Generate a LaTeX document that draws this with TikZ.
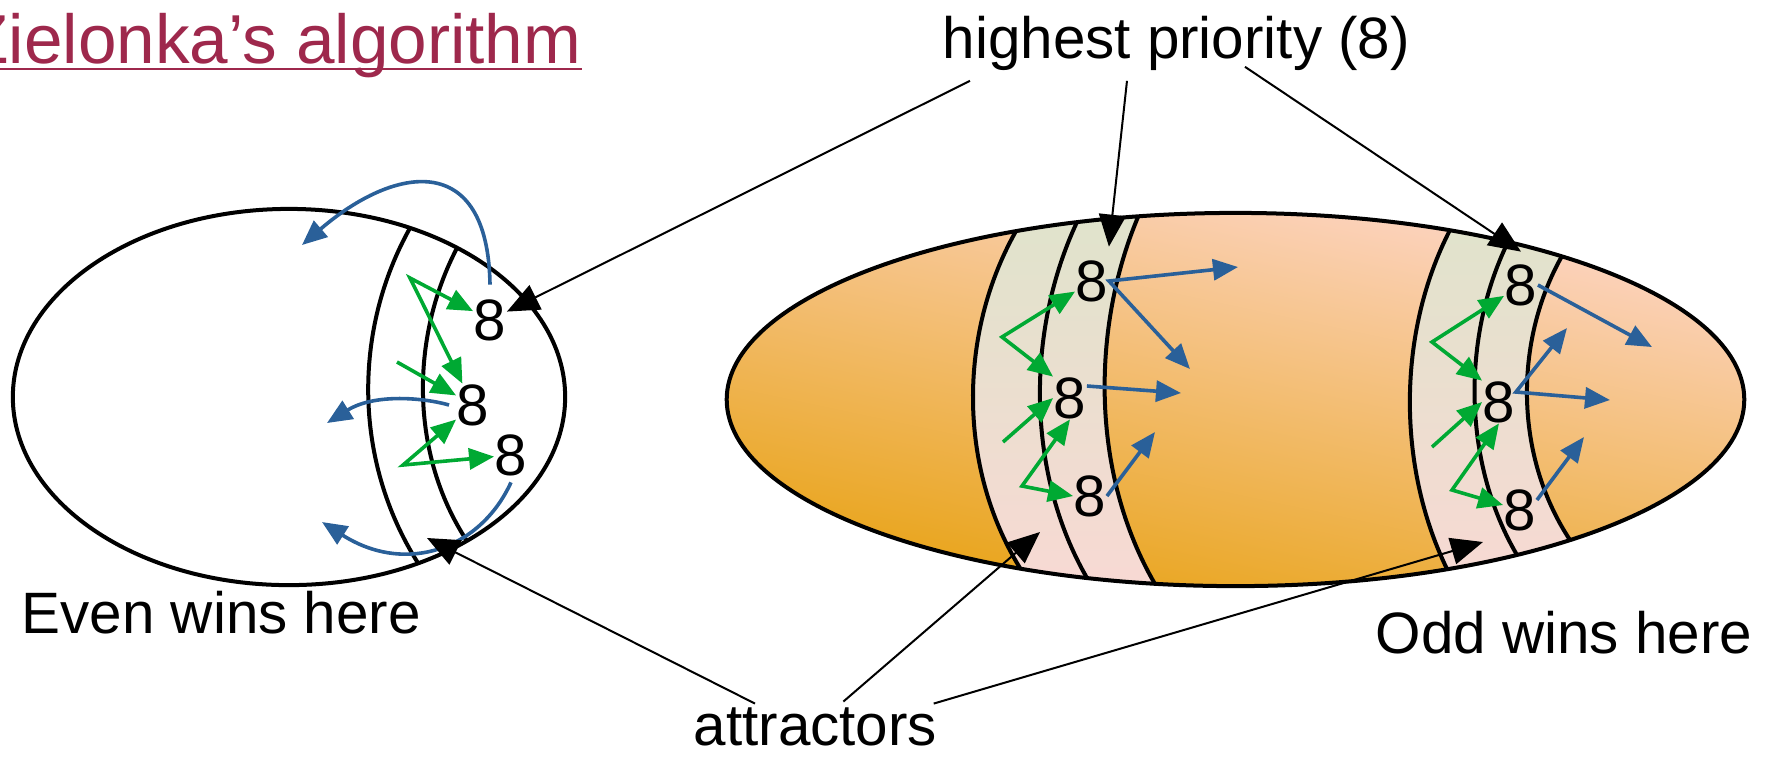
\documentclass[tikz,border=0pt]{standalone}
\usepackage{fontspec}
\setmainfont{Liberation Sans}
\usetikzlibrary{arrows.meta}
\definecolor{titlered}{RGB}{158,40,76}
\definecolor{evgreen}{RGB}{0,169,51}
\definecolor{odblue}{RGB}{42,96,153}
\definecolor{peach}{RGB}{253,213,198}
\definecolor{amber}{RGB}{232,163,22}
\definecolor{sage}{RGB}{222,228,203}
\definecolor{blush}{RGB}{250,216,212}

\begin{document}
\begin{tikzpicture}[x=0.01cm, y=-0.01cm,
    lbl/.style={font=\fontsize{16.6}{20}\selectfont, inner sep=0pt},
    prio/.style={font=\fontsize{16.6}{20}\selectfont, inner sep=0pt},
    rim/.style={line width=0.04cm},
    ptr/.style={line width=0.02cm, -{Triangle[length=0.32cm,width=0.27cm]}},
    grn/.style={evgreen, line width=0.036cm, -{Triangle[length=0.25cm,width=0.21cm]}},
    vee/.style={evgreen, line width=0.036cm,
      {Triangle[length=0.25cm,width=0.21cm]}-{Triangle[length=0.25cm,width=0.21cm]}},
    blu/.style={odblue, line width=0.036cm, -{Triangle[length=0.25cm,width=0.21cm]}},
    fork/.style={odblue, line width=0.036cm,
      {Triangle[length=0.25cm,width=0.21cm]}-{Triangle[length=0.25cm,width=0.21cm]}}
  ]
  \useasboundingbox (0,0) rectangle (1765,756);

  % title
  \node[lbl, font=\fontsize{19.7}{24}\selectfont, text=titlered, anchor=base east] (title) at (582,63) {Zielonka’s algorithm};
  \draw[titlered, line width=0.025cm] ([yshift=-0.06cm]title.base west) -- ([yshift=-0.06cm]title.base east);

  % even region
  \draw[rim] (289,397) ellipse [x radius=2.76cm, y radius=1.88cm];
  \draw[rim] (410,228) .. controls (353,330) and (353,460) .. (418,563);
  \draw[rim] (457,248) .. controls (410,338) and (410,454) .. (467,541);

  % odd region
  \shade[top color=peach, bottom color=amber, shading angle=-12]
    (1235.5,399.5) ellipse [x radius=5.085cm, y radius=1.865cm];
  \begin{scope}
    \clip (1235.5,399.5) ellipse [x radius=5.085cm, y radius=1.865cm];
    \shade[top color=sage, bottom color=blush] (1016,190) -- (1016,231)
      .. controls (958,334) and (958,467) .. (1020,568) -- (1020,620) -- (1155,620) -- (1155,584)
      .. controls (1091,474) and (1091,329) .. (1138,217) -- (1138,190) -- cycle;
    \shade[top color=sage, bottom color=blush] (1450,190) -- (1450,230)
      .. controls (1397,333) and (1397,466) .. (1447,569) -- (1447,620) -- (1570,620) -- (1570,540)
      .. controls (1514,455) and (1514,341) .. (1562,256) -- (1562,190) -- cycle;
  \end{scope}
  \draw[rim] (1016,231) .. controls (958,334) and (958,467) .. (1020,568);
  \draw[rim] (1077,222) .. controls (1026,331) and (1026,472) .. (1087,578);
  \draw[rim] (1138,217) .. controls (1091,329) and (1091,474) .. (1155,584);
  \draw[rim] (1450,230) .. controls (1397,333) and (1397,466) .. (1447,569);
  \draw[rim] (1508,242) .. controls (1462,336) and (1462,461) .. (1517,555);
  \draw[rim] (1562,256) .. controls (1514,341) and (1514,455) .. (1570,540);
  \draw[rim] (1235.5,399.5) ellipse [x radius=5.085cm, y radius=1.865cm];

  % priority 8 vertices
  \node[prio] (La) at (490,320) {8};
  \node[prio] (Lb) at (473,405) {8};
  \node[prio] (Lc) at (511,455) {8};
  \node[prio] (R1a) at (1092,281) {8};
  \node[prio] (R1b) at (1070,398) {8};
  \node[prio] (R1c) at (1090,496) {8};
  \node[prio] (R2a) at (1521,285) {8};
  \node[prio] (R2b) at (1499,402) {8};
  \node[prio] (R2c) at (1520,510) {8};

  % free ends
  \coordinate (Lp1) at (410,278);
  \coordinate (Lp2) at (397,362);
  \coordinate (Lp3) at (403,465);
  \coordinate (Lo1) at (302,245);
  \coordinate (Lo2) at (327,423);
  \coordinate (Lo3) at (322,522);
  \coordinate (Q1) at (1002,337);
  \coordinate (Q2) at (1003,442);
  \coordinate (Q3) at (1022,486);
  \coordinate (S1) at (1238,267);
  \coordinate (S2) at (1190,369);
  \coordinate (S3) at (1181,393);
  \coordinate (S4) at (1155,432);
  \coordinate (Q4) at (1432,342);
  \coordinate (Q5) at (1432,447);
  \coordinate (Q6) at (1452,490);
  \coordinate (T1) at (1652,347);
  \coordinate (T2) at (1567,328);
  \coordinate (T3) at (1610,400);
  \coordinate (T4) at (1584,437);
  \coordinate (Lstrip) at (427,538);
  \coordinate (Rstrip1) at (1040,532);
  \coordinate (Rstrip2) at (1483,542);

  % attractor moves
  \draw[vee] (La) -- (Lp1) -- (Lb);
  \draw[grn] (Lp2) -- (Lb);
  \draw[vee] (Lb) -- (Lp3) -- (Lc);
  \draw[vee] (R1a) -- (Q1) -- (R1b.north west);
  \draw[grn] (Q2) -- (R1b.west);
  \draw[vee] (R1b.south) -- (Q3) -- (R1c.west);
  \draw[vee] (R2a) -- (Q4) -- (R2b.north west);
  \draw[grn] (Q5) -- (R2b.west);
  \draw[vee] (R2b.south) -- (Q6) -- (R2c);

  % escaping moves
  \draw[blu] ([yshift=0.14cm]La.north) .. controls (488,150) and (395,165) .. (Lo1);
  \draw[blu] ([xshift=-0.07cm]Lb.west) .. controls (425,398) and (375,393) .. (Lo2);
  \draw[blu] ([yshift=-0.06cm]Lc.south) .. controls (480,550) and (405,575) .. (Lo3);
  \draw[fork] (S1) -- (R1a.east) -- (S2);
  \draw[blu] ([yshift=0.12cm]R1b.east) -- (S3);
  \draw[blu] (R1c.east) -- (S4);
  \draw[blu] (R2a.east) -- (T1);
  \draw[fork] (T2) -- ([yshift=0.1cm]R2b.east) -- (T3);
  \draw[blu] ([yshift=0.1cm]R2c.east) -- (T4);

  % labels
  \node[lbl, anchor=base west] (even) at (21,633) {Even wins here};
  \node[lbl, anchor=base west] (odd) at (1375,653) {Odd wins here};
  \node[lbl, anchor=base west] (attr) at (693,745) {attractors};
  \node[lbl, anchor=base west] (top8) at (942,58) {highest priority (8)};

  % pointers
  \draw[ptr] ([shift={(28,10)}]top8.south west) -- (La);
  \draw[ptr] ([shift={(185,10)}]top8.south west) -- ([yshift=0.13cm]R1a.north east);
  \draw[ptr] ([shift={(303,-4)}]top8.south west) -- ([yshift=0.12cm]R2a.north);
  \draw[ptr] ([shift={(62,-3)}]attr.north west) -- (Lstrip);
  \draw[ptr] ([shift={(28,-5)}]attr.north) -- (Rstrip1);
  \draw[ptr] ([shift={(-4,-3)}]attr.north east) -- (Rstrip2);
\end{tikzpicture}
\end{document}
